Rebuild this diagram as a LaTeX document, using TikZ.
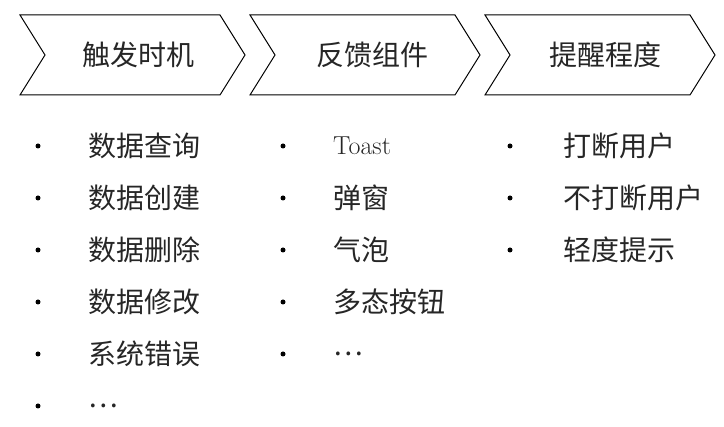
\documentclass[tikz,border=0pt]{standalone}
\usepackage{fontspec}
\newfontfamily\cjk{Noto Sans CJK SC}[Scale=1]
\begin{document}
\begin{tikzpicture}[x=1pt,y=-1pt,
  chev/.style={draw=black,line width=1pt,fill=white},
  lbl/.style={font=\cjk\fontsize{28}{30}\selectfont\color{black!85},anchor=west,inner sep=0},
  hdr/.style={font=\cjk\fontsize{28}{30}\selectfont\color{black!85},inner sep=0},
  bul/.style={circle,fill=black,inner sep=0,minimum size=5pt}]
\useasboundingbox (0,0) rectangle (724,427);
\foreach \x/\w in {20/225,250/230,485/230}{
  \draw[chev] (\x,15) -- (\x+\w-25,15) -- (\x+\w,55) -- (\x+\w-25,95) -- (\x,95) -- (\x+25,55) -- cycle;}
\node[hdr] (h1) at (138,55) {触发时机};
\node[hdr] (h2) at (372,55) {反馈组件};
\node[hdr] (h3) at (605,55) {提醒程度};
\foreach \t [count=\i] in {数据查询,数据创建,数据删除,数据修改,系统错误,…}{
  \node[bul] (a\i) at (38,146+52*\i-52) {};
  \node[lbl] (at\i) at (88,146+52*\i-52) {\t};}
\foreach \t [count=\i] in {弹窗,气泡,多态按钮,…}{
  \node[bul] (b\i) at (283,198+52*\i-52) {};
  \node[lbl] (bt\i) at (333,198+52*\i-52) {\t};}
\node[bul] (b0) at (283,146) {};
\node[lbl,font=\fontsize{26}{30}\selectfont\color{black!85}] (bt0) at (333,146) {Toast};
\foreach \t [count=\i] in {打断用户,不打断用户,轻度提示}{
  \node[bul] (c\i) at (510,146+52*\i-52) {};
  \node[lbl] (ct\i) at (563,146+52*\i-52) {\t};}
\end{tikzpicture}
\end{document}
